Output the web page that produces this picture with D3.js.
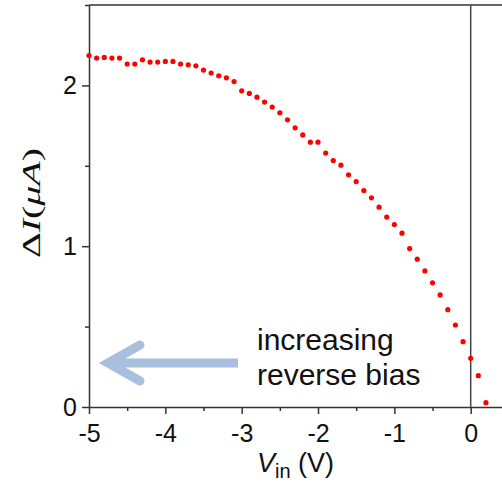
<!DOCTYPE html>
<html>
<head>
<meta charset="utf-8">
<script src="https://cdn.jsdelivr.net/npm/d3@7"></script>
<style>
  body { margin: 0; background: #fff; }
  svg { display: block; }
</style>
</head>
<body>
<div id="canvas"></div>
<script>
"use strict"

let svgWidth = 502;
let svgHeight = 484;

/* Data: input voltage (V) and current change (uA) */
let vin = [-5.0, -4.9, -4.8, -4.7, -4.6, -4.5, -4.4, -4.3, -4.2, -4.1,
           -4.0, -3.9, -3.8, -3.7, -3.6, -3.5, -3.4, -3.3, -3.2, -3.1,
           -3.0, -2.9, -2.8, -2.7, -2.6, -2.5, -2.4, -2.3, -2.2, -2.1,
           -2.0, -1.9, -1.8, -1.7, -1.6, -1.5, -1.4, -1.3, -1.2, -1.1,
           -1.0, -0.9, -0.8, -0.7, -0.6, -0.5, -0.4, -0.3, -0.2, -0.1,
           0.0, 0.1, 0.2];
let deltaI = [2.186, 2.170, 2.174, 2.170, 2.170, 2.133, 2.133, 2.159, 2.145, 2.145,
              2.149, 2.149, 2.133, 2.128, 2.122, 2.095, 2.077, 2.060, 2.047, 2.024,
              1.966, 1.950, 1.927, 1.896, 1.865, 1.830, 1.786, 1.736, 1.692, 1.647,
              1.647, 1.579, 1.533, 1.504, 1.444, 1.402, 1.346, 1.301, 1.243, 1.181,
              1.135, 1.081, 0.985, 0.919, 0.846, 0.772, 0.697, 0.605, 0.510, 0.406,
              0.303, 0.195, 0.027];

let xTicks = [-5, -4, -3, -2, -1, 0];
let xMinor = [-4.5, -3.5, -2.5, -1.5, -0.5];
let yTicks = [0, 1, 2];
let yMinor = [0.5, 1.5, 2.5];

let dataset = vin.map((v, i) => ({v: v, i: deltaI[i]}));

let svg = d3.select("#canvas")
    .append("svg")
    .attr("width", svgWidth)
    .attr("height", svgHeight);

/* Scales */
let xScale = d3.scaleLinear()
    .domain([-5, 0.41])
    .range([89, 502]);

let yScale = d3.scaleLinear()
    .domain([0, 2.5])
    .range([407, 5]);

let axisColor = "#333";
let tickFont = "'Liberation Sans', Arial, sans-serif";

/* minor ticks first so major axes sit on top */
svg.append("g")
    .attr("transform", "translate(0,407)")
    .call(d3.axisBottom(xScale).tickValues(xMinor).tickSize(4).tickFormat(""))
    .call(g => g.select(".domain").remove())
    .call(g => g.selectAll("line").attr("stroke", axisColor).attr("stroke-width", 1.5));

svg.append("g")
    .attr("transform", "translate(89,0)")
    .call(d3.axisLeft(yScale).tickValues(yMinor).tickSize(4).tickFormat(""))
    .call(g => g.select(".domain").remove())
    .call(g => g.selectAll("line").attr("stroke", axisColor).attr("stroke-width", 1.5));

/* major x axis (plain hyphen for negatives, as in the figure) */
svg.append("g")
    .attr("transform", "translate(0,407)")
    .call(d3.axisBottom(xScale).tickValues(xTicks).tickSize(7).tickPadding(10)
        .tickSizeOuter(0).tickFormat(d => String(d)))
    .call(g => g.select(".domain").attr("stroke", axisColor).attr("stroke-width", 1.5))
    .call(g => g.selectAll("line").attr("stroke", axisColor).attr("stroke-width", 1.5))
    .call(g => g.selectAll("text")
        .attr("fill", "#111")
        .style("font-family", tickFont)
        .style("font-size", "25px"));

/* major y axis */
svg.append("g")
    .attr("transform", "translate(89,0)")
    .call(d3.axisLeft(yScale).tickValues(yTicks).tickSize(7).tickPadding(5)
        .tickSizeOuter(0).tickFormat(d => String(d)))
    .call(g => g.select(".domain").attr("stroke", axisColor).attr("stroke-width", 1.5))
    .call(g => g.selectAll("line").attr("stroke", axisColor).attr("stroke-width", 1.5))
    .call(g => g.selectAll("text")
        .attr("fill", "#111")
        .style("font-family", tickFont)
        .style("font-size", "25px"));

/* top border */
svg.append("line")
    .attr("x1", xScale(-5))
    .attr("y1", yScale(2.5))
    .attr("x2", svgWidth)
    .attr("y2", yScale(2.5))
    .attr("stroke", axisColor)
    .attr("stroke-width", 1.5);

/* zero-voltage line */
svg.append("line")
    .attr("x1", xScale(0))
    .attr("y1", yScale(2.5))
    .attr("x2", xScale(0))
    .attr("y2", yScale(0))
    .attr("stroke", "#444")
    .attr("stroke-width", 1.5);

/* data points */
svg.selectAll("circle.dataPoint")
    .data(dataset)
    .join("circle")
    .attr("class", "dataPoint")
    .attr("cx", d => xScale(d.v))
    .attr("cy", d => yScale(d.i))
    .attr("r", 2.6)
    .attr("fill", "#ff0000");

/* arrow: increasing reverse bias */
svg.append("path")
    .attr("d", "M238,363 L108,363 M140,345 L108,363 L140,381")
    .attr("fill", "none")
    .attr("stroke", "#a8c0de")
    .attr("stroke-width", 9)
    .attr("stroke-linecap", "round")
    .attr("stroke-linejoin", "miter");

/* flat end on the shaft's right side */
svg.append("rect")
    .attr("x", 238)
    .attr("y", 355)
    .attr("width", 8)
    .attr("height", 16)
    .attr("fill", "#fff");

svg.append("text")
    .attr("x", 257)
    .attr("y", 350)
    .style("font-family", tickFont)
    .style("font-size", "30px")
    .attr("fill", "#111")
    .text("increasing");

svg.append("text")
    .attr("x", 257)
    .attr("y", 385)
    .style("font-family", tickFont)
    .style("font-size", "30px")
    .attr("fill", "#111")
    .text("reverse bias");

/* x axis label */
let xLabel = svg.append("text")
    .attr("x", 257)
    .attr("y", 472)
    .style("font-family", tickFont)
    .style("font-size", "27px")
    .attr("fill", "#111");
xLabel.append("tspan").style("font-style", "italic").text("V");
xLabel.append("tspan").attr("dy", 6).style("font-size", "20px").text("in");
xLabel.append("tspan").attr("dy", -6).text(" (V)");

/* y axis label */
let yLabel = svg.append("text")
    .attr("transform", "translate(40,203) rotate(-90)")
    .attr("text-anchor", "middle")
    .attr("textLength", 110)
    .attr("lengthAdjust", "spacingAndGlyphs")
    .style("font-family", "'Liberation Serif', 'Times New Roman', serif")
    .style("font-size", "26px")
    .attr("fill", "#111");
yLabel.append("tspan").text("Δ");
yLabel.append("tspan").style("font-style", "italic").text("I");
yLabel.append("tspan").text("(");
yLabel.append("tspan").style("font-style", "italic").text("μA");
yLabel.append("tspan").text(")");
</script>
</body>
</html>
